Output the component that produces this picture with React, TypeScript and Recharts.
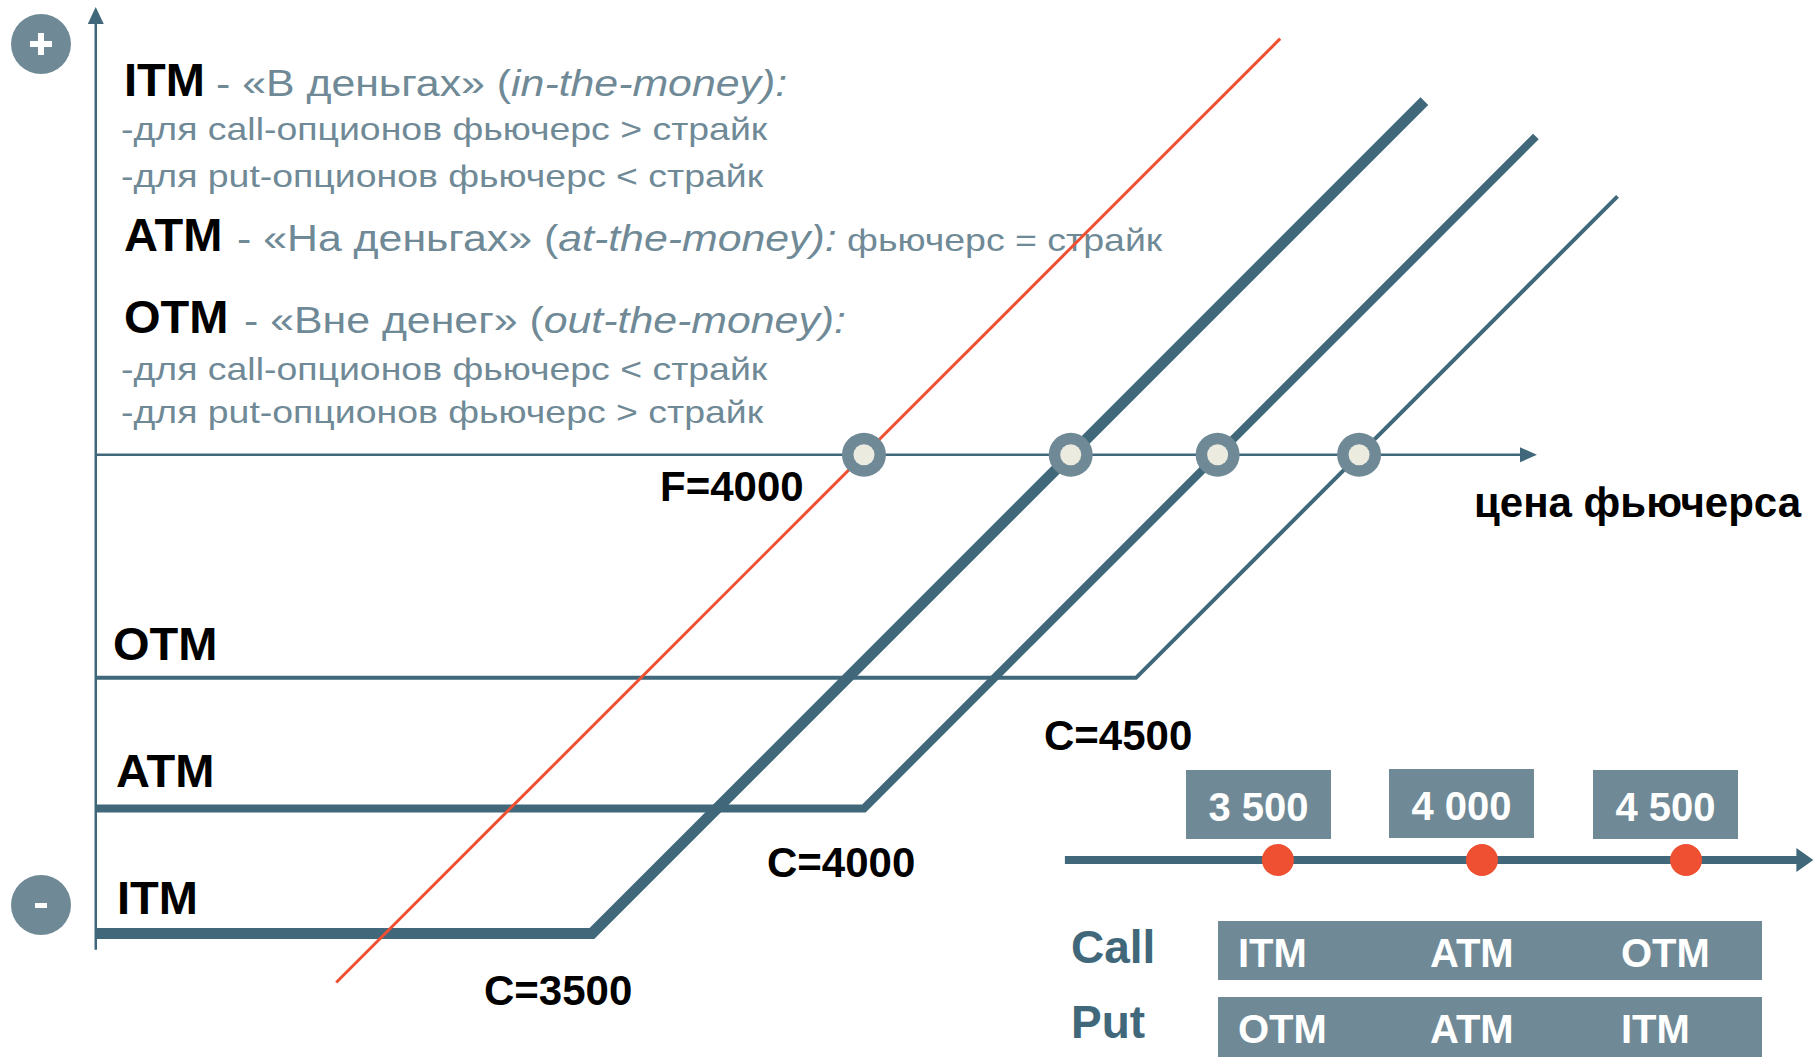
import React from "react";
import { ComposedChart, Line, Scatter, XAxis, YAxis } from "recharts";

const W = 1815;
const H = 1057;

const FONT = "'Liberation Sans', Arial, Helvetica, sans-serif";
const SLATE = "#40687a";
const GRAY = "#6f8a96";
const RED = "#ef5032";
const CREAM = "#ecebe0";

// futures price (x) vs P&L (y)
const callItm = [
  { x: 2588, y: -880 },
  { x: 3500, y: -880 },
  { x: 5030, y: 650 },
];
const callAtm = [
  { x: 2588, y: -650 },
  { x: 4000, y: -650 },
  { x: 5235, y: 585 },
];
const callOtm = [
  { x: 2588, y: -410 },
  { x: 4500, y: -410 },
  { x: 5385, y: 475 },
];
const futures = [
  { x: 3030, y: -970 },
  { x: 4765, y: 765 },
];
const breakEvens = [
  { x: 4000, y: 0 },
  { x: 4380, y: 0 },
  { x: 4650, y: 0 },
  { x: 4910, y: 0 },
];
const yAxisLine = [
  { x: 2588, y: -910 },
  { x: 2588, y: 800 },
];
const yAxisTip = [{ x: 2588, y: 823 }];
const xAxisLine = [
  { x: 2588, y: 0 },
  { x: 5215, y: 0 },
];
const xAxisTip = [{ x: 5237, y: 0 }];

// strike scale, bottom right
const strikeDots = [
  { x: 3500, y: 0 },
  { x: 4000, y: 0 },
  { x: 4500, y: 0 },
];
const strikeLabels = ["3 500", "4 000", "4 500"];
const callRow = ["ITM", "ATM", "OTM"];
const putRow = ["OTM", "ATM", "ITM"];
const strikeAxis = [
  { x: 2978, y: 0 },
  { x: 4790, y: 0 },
];
const strikeAxisTip = [{ x: 4812, y: 0 }];

// frame of the main diagram in price / P&L units
const X_DOMAIN = [2412, 5748];
const Y_DOMAIN = [-1107, 836];

const UpArrow = (p: any) => (
  <path d={`M${p.cx},${p.cy} L${p.cx - 8},${p.cy + 17} L${p.cx + 8},${p.cy + 17} Z`} fill={SLATE} />
);
const RightArrow = (p: any) => (
  <path d={`M${p.cx},${p.cy} L${p.cx - 17},${p.cy - 7.5} L${p.cx - 17},${p.cy + 7.5} Z`} fill={SLATE} />
);
const BigRightArrow = (p: any) => (
  <path d={`M${p.cx},${p.cy} L${p.cx - 17},${p.cy - 12} L${p.cx - 17},${p.cy + 12} Z`} fill={SLATE} />
);
const Ring = (p: any) => (
  <g>
    <circle cx={p.cx} cy={p.cy} r={22} fill={GRAY} />
    <circle cx={p.cx} cy={p.cy} r={10.5} fill={CREAM} />
  </g>
);
const RedDot = (p: any) => <circle cx={p.cx} cy={p.cy} r={16} fill={RED} />;

function Heading({ y, label, gx, quote, term, tail }: any) {
  return (
    <>
      <text x={124} y={y} fontSize={47} fontWeight="bold" fill="#000">
        {label}
      </text>
      <g transform={`translate(${gx},${y}) scale(1.19,1)`}>
        <text x={0} y={0} fontSize={36} fill={GRAY}>
          {`- ${quote} (`}
          <tspan fontStyle="italic">{term}</tspan>
          {tail ? <tspan fontSize={31.5}>{tail}</tspan> : null}
        </text>
      </g>
    </>
  );
}

function SubLine({ y, text }: any) {
  return (
    <g transform={`translate(121,${y}) scale(1.17,1)`}>
      <text x={0} y={0} fontSize={32} fill={GRAY}>
        {text}
      </text>
    </g>
  );
}

export default function App() {
  const boxX = [1186, 1389, 1593];
  const boxY = [770, 769, 770];
  const cellX = [1238, 1430, 1621];

  return (
    <div
      style={{ position: "absolute", left: 0, top: 0, width: W, height: H, background: "#fff", fontFamily: FONT }}
    >
      <svg width={W} height={H} style={{ position: "absolute", left: 0, top: 0 }} fontFamily={FONT}>
        {/* + / - markers */}
        <circle cx={41} cy={44} r={30} fill={GRAY} />
        <rect x={30} y={41} width={22} height={6} fill="#fff" />
        <rect x={38} y={33} width={6} height={22} fill="#fff" />
        <circle cx={41} cy={905} r={30} fill={GRAY} />
        <rect x={35} y={903} width={12} height={5} fill="#fff" />

        <Heading y={96} label="ITM" gx={216} quote="«В деньгах»" term="in-the-money):" />
        <SubLine y={140} text="-для call-опционов фьючерс > страйк" />
        <SubLine y={187} text="-для put-опционов фьючерс < страйк" />
        <Heading
          y={251}
          label="ATM"
          gx={237}
          quote="«На деньгах»"
          term="at-the-money):"
          tail=" фьючерс = страйк"
        />
        <Heading y={333} label="OTM" gx={244} quote="«Вне денег»" term="out-the-money):" />
        <SubLine y={380} text="-для call-опционов фьючерс < страйк" />
        <SubLine y={423} text="-для put-опционов фьючерс > страйк" />

        <g fontWeight="bold" fill="#000">
          <text x={660} y={501} fontSize={42}>F=4000</text>
          <text x={1474} y={517} fontSize={42}>цена фьючерса</text>
          <text x={113} y={660} fontSize={47}>OTM</text>
          <text x={116} y={787} fontSize={47}>ATM</text>
          <text x={117} y={914} fontSize={47}>ITM</text>
          <text x={1044} y={750} fontSize={42}>C=4500</text>
          <text x={767} y={877} fontSize={42}>C=4000</text>
          <text x={484} y={1005} fontSize={42}>C=3500</text>
        </g>

        {/* strike boxes */}
        {strikeLabels.map((s, i) => (
          <g key={s}>
            <rect x={boxX[i]} y={boxY[i]} width={145} height={69} fill={GRAY} />
            <text
              x={boxX[i] + 72.5}
              y={boxY[i] + 51}
              fontSize={40}
              fontWeight="bold"
              fill="#fff"
              textAnchor="middle"
            >
              {s}
            </text>
          </g>
        ))}

        {/* call / put table */}
        <text x={1071} y={963} fontSize={46} fontWeight="bold" fill={SLATE}>Call</text>
        <text x={1071} y={1038} fontSize={46} fontWeight="bold" fill={SLATE}>Put</text>
        <rect x={1218} y={921} width={544} height={59} fill={GRAY} />
        <rect x={1218} y={997} width={544} height={60} fill={GRAY} />
        {callRow.map((c, i) => (
          <text key={"c" + i} x={cellX[i]} y={967} fontSize={40} fontWeight="bold" fill="#fff">
            {c}
          </text>
        ))}
        {putRow.map((c, i) => (
          <text key={"p" + i} x={cellX[i]} y={1043} fontSize={40} fontWeight="bold" fill="#fff">
            {c}
          </text>
        ))}
      </svg>

      <div style={{ position: "absolute", left: 0, top: 0 }}>
        <ComposedChart width={W} height={H} margin={{ top: 0, right: 0, bottom: 0, left: 0 }}>
          <XAxis type="number" dataKey="x" domain={X_DOMAIN} hide allowDataOverflow />
          <YAxis type="number" dataKey="y" domain={Y_DOMAIN} hide allowDataOverflow />
          <Line data={yAxisLine} dataKey="y" type="linear" stroke={SLATE} strokeWidth={2.5} dot={false} activeDot={false} isAnimationActive={false} />
          <Line data={xAxisLine} dataKey="y" type="linear" stroke={SLATE} strokeWidth={2.5} dot={false} activeDot={false} isAnimationActive={false} />
          <Scatter data={yAxisTip} shape={UpArrow} isAnimationActive={false} />
          <Scatter data={xAxisTip} shape={RightArrow} isAnimationActive={false} />
          <Line data={callItm} dataKey="y" type="linear" stroke={SLATE} strokeWidth={11} dot={false} activeDot={false} isAnimationActive={false} />
          <Line data={callAtm} dataKey="y" type="linear" stroke={SLATE} strokeWidth={8} dot={false} activeDot={false} isAnimationActive={false} />
          <Line data={callOtm} dataKey="y" type="linear" stroke={SLATE} strokeWidth={4} dot={false} activeDot={false} isAnimationActive={false} />
          <Line data={futures} dataKey="y" type="linear" stroke={RED} strokeWidth={3} dot={false} activeDot={false} isAnimationActive={false} />
          <Scatter data={breakEvens} shape={Ring} isAnimationActive={false} />
        </ComposedChart>
      </div>

      <div style={{ position: "absolute", left: 1000, top: 780 }}>
        <ComposedChart width={815} height={160} margin={{ top: 0, right: 0, bottom: 0, left: 0 }}>
          <XAxis type="number" dataKey="x" domain={[2819, 4816]} hide allowDataOverflow />
          <YAxis type="number" dataKey="y" domain={[-1, 1]} hide allowDataOverflow />
          <Line data={strikeAxis} dataKey="y" type="linear" stroke={SLATE} strokeWidth={8} dot={false} activeDot={false} isAnimationActive={false} />
          <Scatter data={strikeAxisTip} shape={BigRightArrow} isAnimationActive={false} />
          <Scatter data={strikeDots} shape={RedDot} isAnimationActive={false} />
        </ComposedChart>
      </div>
    </div>
  );
}
